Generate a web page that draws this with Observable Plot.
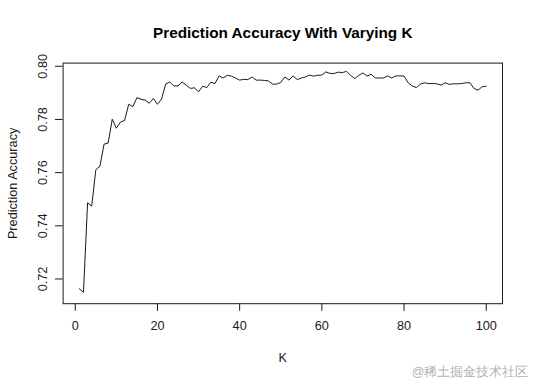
<!DOCTYPE html>
<html>
<head>
<meta charset="utf-8">
<script src="https://cdn.jsdelivr.net/npm/d3@7"></script>
<script src="https://cdn.jsdelivr.net/npm/@observablehq/plot@0.6"></script>
<style>
  html, body { margin: 0; padding: 0; background: #fff; }
  #chart { width: 534px; height: 381px; }
</style>
</head>
<body>
<div id="chart"></div>
<script>
const title = "Prediction Accuracy With Varying K";
const xLabel = "K";
const yLabel = "Prediction Accuracy";
const watermark = "@稀土掘金技术社区";

const kValues = d3.range(1, 101);
const accuracy = [
  0.7163, 0.7150, 0.7487, 0.7474, 0.7611, 0.7624, 0.7707, 0.7711, 0.7801, 0.7767,
  0.7790, 0.7796, 0.7857, 0.7848, 0.7882, 0.7876, 0.7873, 0.7861, 0.7879, 0.7857,
  0.7877, 0.7933, 0.7941, 0.7926, 0.7926, 0.7941, 0.7929, 0.7917, 0.7919, 0.7904,
  0.7925, 0.7920, 0.7940, 0.7935, 0.7964, 0.7956, 0.7966, 0.7963, 0.7956, 0.7948,
  0.7951, 0.7950, 0.7960, 0.7948, 0.7948, 0.7947, 0.7945, 0.7933, 0.7933, 0.7939,
  0.7960, 0.7948, 0.7964, 0.7950, 0.7956, 0.7960, 0.7967, 0.7963, 0.7966, 0.7967,
  0.7979, 0.7973, 0.7973, 0.7978, 0.7976, 0.7981, 0.7966, 0.7954, 0.7966, 0.7975,
  0.7963, 0.7970, 0.7956, 0.7956, 0.7956, 0.7964, 0.7956, 0.7964, 0.7964, 0.7963,
  0.7938, 0.7926, 0.7920, 0.7933, 0.7938, 0.7935, 0.7935, 0.7934, 0.7929, 0.7938,
  0.7932, 0.7934, 0.7934, 0.7935, 0.7938, 0.7938, 0.7917, 0.7910, 0.7923, 0.7925
];
const xTicks = [0, 20, 40, 60, 80, 100];
const yTicks = [0.72, 0.74, 0.76, 0.78, 0.80];

const data = kValues.map((k, i) => ({k, acc: accuracy[i]}));

const font = "'Liberation Sans', Arial, Helvetica, sans-serif";
const ink = "#1a1a1a";

const chart = Plot.plot({
  width: 534,
  height: 381,
  marginLeft: 62.6,
  marginRight: 32,
  marginTop: 62.6,
  marginBottom: 77.8,
  style: {fontFamily: font, fontSize: "12.7px", color: ink, background: "#fff"},
  x: {domain: [-2.96, 103.96]},
  y: {domain: [0.7107, 0.8012]},
  marks: [
    Plot.frame({stroke: ink, strokeWidth: 1}),
    Plot.axisX({ticks: xTicks, tickSize: 7.6, tickPadding: 10, tickFormat: d => String(d), label: null, fontSize: 12.7, stroke: ink}),
    Plot.axisY({ticks: yTicks, tickSize: 7.6, tickPadding: 9, tickRotate: -90, tickFormat: d => d.toFixed(2), label: null, fontSize: 12.7, stroke: ink}),
    Plot.line(data, {x: "k", y: "acc", stroke: ink, strokeWidth: 1}),
    Plot.text([title], {frameAnchor: "top", dy: -30.5, lineAnchor: "middle", textAnchor: "middle", fontWeight: "bold", fontSize: 15.3, fill: "#000"}),
    Plot.text([xLabel], {frameAnchor: "bottom", dy: 54.5, lineAnchor: "middle", textAnchor: "middle", fontSize: 12.7, fill: ink}),
    Plot.text([yLabel], {frameAnchor: "left", dx: -50, rotate: -90, lineAnchor: "middle", textAnchor: "middle", fontSize: 12.7, fill: ink}),
    Plot.text([watermark], {frameAnchor: "bottom-right", dx: 26, dy: 68.5, lineAnchor: "middle", textAnchor: "end", fontSize: 12.5, fill: "#b2b2b2"})
  ]
});
document.getElementById("chart").appendChild(chart);
</script>
</body>
</html>
